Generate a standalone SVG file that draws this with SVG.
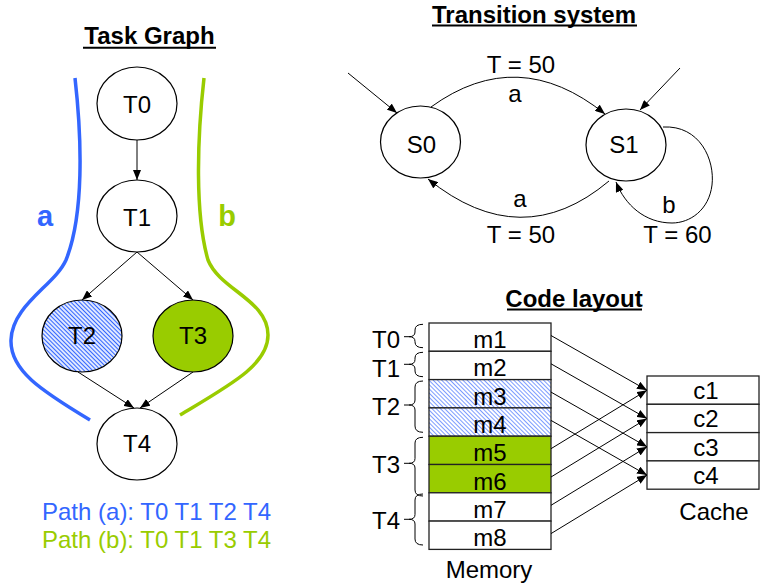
<svg xmlns="http://www.w3.org/2000/svg" width="760" height="586" viewBox="0 0 760 586">
  <style>
    text { font-family: "Liberation Sans", Arial, sans-serif; font-size: 24px; fill: #000; }
    .title { font-weight: bold; font-size: 24px; text-anchor: middle; }
    .mid { text-anchor: middle; }
    .node { fill: #fff; stroke: #000; stroke-width: 1.2; }
    .edge { fill: none; stroke: #000; stroke-width: 1; }
    .cell { stroke: #222; stroke-width: 1.3; }
    .brace { fill: none; stroke: #000; stroke-width: 1; }
    .blue { fill: #3366ff; }
    .green { fill: #99cc00; }
  </style>
  <defs>
    <marker id="arrow" markerUnits="userSpaceOnUse" markerWidth="10" markerHeight="8" refX="10" refY="4" orient="auto">
      <path d="M0,0 L10,4 L0,8 z" fill="#000"/>
    </marker>
    <pattern id="hatch" width="6" height="3" patternUnits="userSpaceOnUse" patternTransform="rotate(45)">
      <rect width="6" height="3" fill="#fff"/>
      <line x1="0" y1="1.5" x2="6" y2="1.5" stroke="#3366ff" stroke-width="1.3"/>
    </pattern>
    <pattern id="hatchLight" width="6" height="3" patternUnits="userSpaceOnUse" patternTransform="rotate(45)">
      <rect width="6" height="3" fill="#fff"/>
      <line x1="0" y1="1.5" x2="6" y2="1.5" stroke="#7c9cff" stroke-width="1"/>
    </pattern>
  </defs>

  <!-- ===== Task graph ===== -->
  <text class="title" x="149.5" y="44">Task Graph</text>
  <line x1="83" y1="47.7" x2="216" y2="47.7" stroke="#000" stroke-width="2"/>

  <!-- path outlines -->
  <path d="M75,78 C82,140 84,215 66,260 C55,285 12,305 11,340 C10,370 40,390 90,420" fill="none" stroke="#3366ff" stroke-width="3.5"/>
  <path d="M204,78 C197,140 195,215 208,260 C220,290 268,300 268,335 C268,365 230,385 180,415" fill="none" stroke="#99cc00" stroke-width="3.5"/>
  <text x="45" y="226" class="blue mid" style="font-weight:bold;font-size:29px">a</text>
  <text x="227" y="226" class="green mid" style="font-weight:bold;font-size:29px">b</text>

  <g id="task-edges">
    <line class="edge" x1="137" y1="140" x2="137" y2="180" marker-end="url(#arrow)"/>
    <line class="edge" x1="137" y1="252" x2="82" y2="300" marker-end="url(#arrow)"/>
    <line class="edge" x1="137" y1="252" x2="193" y2="300" marker-end="url(#arrow)"/>
    <line class="edge" x1="78" y1="372" x2="134" y2="408" marker-end="url(#arrow)"/>
    <line class="edge" x1="193" y1="372" x2="140" y2="408" marker-end="url(#arrow)"/>
  </g>

  <g id="T0"><ellipse class="node" cx="137" cy="103.5" rx="40" ry="36.5"/><text class="mid" x="137" y="113">T0</text></g>
  <g id="T1"><ellipse class="node" cx="137" cy="216" rx="40" ry="36"/><text class="mid" x="137" y="226">T1</text></g>
  <g id="T2"><ellipse class="node" cx="82" cy="336" rx="40" ry="36" style="fill:url(#hatch)"/><text class="mid" x="82" y="344">T2</text></g>
  <g id="T3"><ellipse class="node" cx="193" cy="336" rx="40" ry="36" style="fill:#99cc00"/><text class="mid" x="193" y="344">T3</text></g>
  <g id="T4"><ellipse class="node" cx="137" cy="444" rx="40" ry="36"/><text class="mid" x="137" y="452">T4</text></g>

  <text x="42" y="520" class="blue">Path (a): T0 T1 T2 T4</text>
  <text x="42" y="548" class="green">Path (b): T0 T1 T3 T4</text>

  <!-- ===== Transition system ===== -->
  <text class="title" x="534" y="22.5">Transition system</text>
  <line x1="432" y1="25.5" x2="637" y2="25.5" stroke="#000" stroke-width="2"/>

  <g id="transitions">
    <line class="edge" x1="348" y1="73" x2="397" y2="113" marker-end="url(#arrow)"/>
    <line class="edge" x1="680" y1="68" x2="640" y2="110" marker-end="url(#arrow)"/>
    <path class="edge" d="M431,107 Q518,44 605,114" marker-end="url(#arrow)"/>
    <path class="edge" d="M609,181 Q521.5,254.5 428,179" marker-end="url(#arrow)"/>
    <path class="edge" d="M663,127 C700,125 715,160 712,185 C709,210 690,223 672,223 C645,223 625,205 616,182" marker-end="url(#arrow)"/>
  </g>
  <text class="mid" x="521" y="73">T = 50</text>
  <text class="mid" x="515" y="102">a</text>
  <text class="mid" x="520" y="207">a</text>
  <text class="mid" x="521" y="243">T = 50</text>
  <text class="mid" x="669" y="213">b</text>
  <text class="mid" x="677.5" y="243">T = 60</text>

  <g id="S0"><ellipse class="node" cx="420.5" cy="142" rx="40" ry="36"/><text class="mid" x="421.5" y="153">S0</text></g>
  <g id="S1"><ellipse class="node" cx="626" cy="145" rx="40" ry="36"/><text class="mid" x="624" y="153">S1</text></g>

  <!-- ===== Code layout ===== -->
  <text class="title" x="574" y="306.5">Code layout</text>
  <line x1="507" y1="309.5" x2="642" y2="309.5" stroke="#000" stroke-width="2"/>

  <g id="memory">
    <rect class="cell" x="429" y="323" width="122" height="28.3" fill="#fff"/>
    <rect class="cell" x="429" y="351.3" width="122" height="28.3" fill="#fff"/>
    <rect class="cell" x="429" y="379.6" width="122" height="28.3" fill="url(#hatchLight)"/>
    <rect class="cell" x="429" y="407.9" width="122" height="28.3" fill="url(#hatchLight)"/>
    <rect class="cell" x="429" y="436.2" width="122" height="28.3" fill="#99cc00"/>
    <rect class="cell" x="429" y="464.5" width="122" height="28.3" fill="#99cc00"/>
    <rect class="cell" x="429" y="492.8" width="122" height="28.3" fill="#fff"/>
    <rect class="cell" x="429" y="521.1" width="122" height="28.3" fill="#fff"/>
    <text class="mid" x="490" y="348">m1</text>
    <text class="mid" x="490" y="376.3">m2</text>
    <text class="mid" x="490" y="404.6">m3</text>
    <text class="mid" x="490" y="432.9">m4</text>
    <text class="mid" x="490" y="461.2">m5</text>
    <text class="mid" x="490" y="489.5">m6</text>
    <text class="mid" x="490" y="517.8">m7</text>
    <text class="mid" x="490" y="546.1">m8</text>
    <text class="mid" x="489" y="578">Memory</text>
  </g>

  <g id="braces">
    <path class="brace" d="M423,324.3 Q415,324.3 415,330 L415,332 Q415,336.7 409,336.7 L404,336.7 M409,336.7 Q415,336.7 415,341.5 L415,342 Q415,347.7 423,347.7"/>
    <path class="brace" d="M423,352.3 Q415,352.3 415,358 L415,359.5 Q415,364.3 409,364.3 L404,364.3 M409,364.3 Q415,364.3 415,369 L415,371 Q415,376.7 423,376.7"/>
    <path class="brace" d="M423,381 Q415,381 415,387 L415,400 Q415,405 409,405 L404,405 M409,405 Q415,405 415,410 L415,426 Q415,432.3 423,432.3"/>
    <path class="brace" d="M423,437.3 Q415,437.3 415,443 L415,458.5 Q415,463.3 409,463.3 L404,463.3 M409,463.3 Q415,463.3 415,468 L415,490 Q415,496 423,496"/>
    <path class="brace" d="M423,494 Q415,494 415,500 L415,514.5 Q415,519.3 409,519.3 L404,519.3 M409,519.3 Q415,519.3 415,524 L415,539 Q415,545 423,545"/>
    <text x="372" y="348">T0</text>
    <text x="372" y="376.7">T1</text>
    <text x="372" y="415">T2</text>
    <text x="372" y="473">T3</text>
    <text x="372" y="529">T4</text>
  </g>

  <g id="cache">
    <rect class="cell" x="647" y="376" width="112" height="28.3" fill="#fff"/>
    <rect class="cell" x="647" y="404.3" width="112" height="28.3" fill="#fff"/>
    <rect class="cell" x="647" y="432.6" width="112" height="28.3" fill="#fff"/>
    <rect class="cell" x="647" y="460.9" width="112" height="28.3" fill="#fff"/>
    <text class="mid" x="706" y="399">c1</text>
    <text class="mid" x="706" y="427.3">c2</text>
    <text class="mid" x="706" y="455.6">c3</text>
    <text class="mid" x="706" y="483.9">c4</text>
    <text class="mid" x="714" y="520">Cache</text>
  </g>

  <g id="mapping">
    <line class="edge" x1="551" y1="335.5" x2="647" y2="390.2" marker-end="url(#arrow)"/>
    <line class="edge" x1="551" y1="363.8" x2="647" y2="418.5" marker-end="url(#arrow)"/>
    <line class="edge" x1="551" y1="392.1" x2="647" y2="446.8" marker-end="url(#arrow)"/>
    <line class="edge" x1="551" y1="420.4" x2="647" y2="475.1" marker-end="url(#arrow)"/>
    <line class="edge" x1="551" y1="448.7" x2="647" y2="390.2" marker-end="url(#arrow)"/>
    <line class="edge" x1="551" y1="477" x2="647" y2="418.5" marker-end="url(#arrow)"/>
    <line class="edge" x1="551" y1="505.3" x2="647" y2="446.8" marker-end="url(#arrow)"/>
    <line class="edge" x1="551" y1="533.6" x2="647" y2="475.1" marker-end="url(#arrow)"/>
  </g>
</svg>
